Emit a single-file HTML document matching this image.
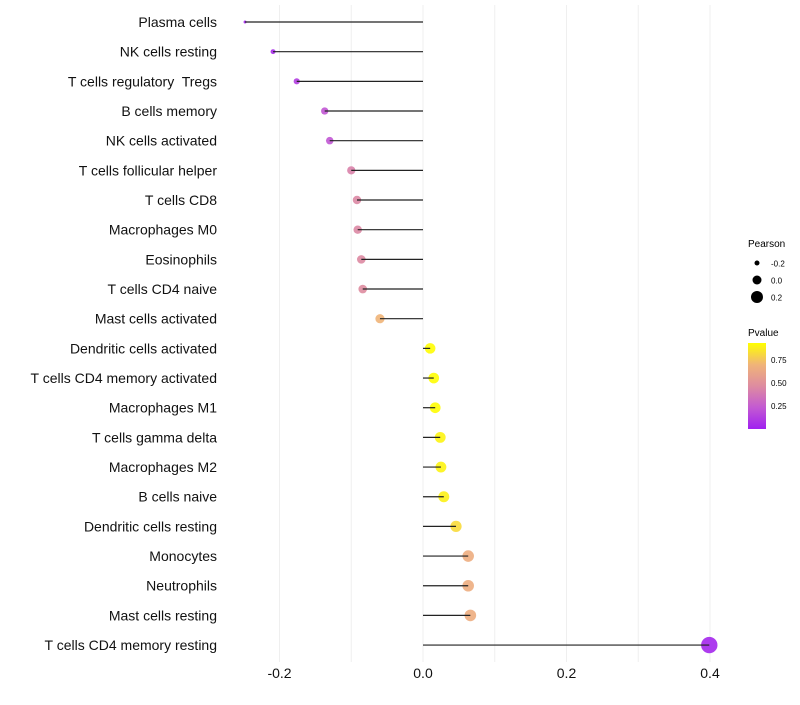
<!DOCTYPE html>
<html><head><meta charset="utf-8"><style>
body{margin:0;background:#fff;font-family:"Liberation Sans",sans-serif}
text{white-space:pre}
</style></head><body>
<svg id="chart" width="800" height="700" xmlns="http://www.w3.org/2000/svg" font-family="Liberation Sans, sans-serif">
<g id="grid"></g>
<g id="marks"></g>
<g id="ylabels"></g>
<g id="xlabels"></g>
<g>
<text x="748" y="247" font-size="10" fill="#000">Pearson</text>
<circle cx="757" cy="263" r="2.5" fill="#000"/>
<text x="771" y="266.5" font-size="8">-0.2</text>
<circle cx="757" cy="280" r="4.5" fill="#000"/>
<text x="771" y="283.5" font-size="8">0.0</text>
<circle cx="757" cy="297" r="6" fill="#000"/>
<text x="771" y="300.5" font-size="8">0.2</text>
</g>
<g>
<defs><linearGradient id="pg" x1="0" y1="1" x2="0" y2="0">
<stop offset="0" stop-color="#A020F0"/><stop offset="0.25" stop-color="#C35AD2"/><stop offset="0.5" stop-color="#DE8CA0"/><stop offset="0.75" stop-color="#F0B478"/><stop offset="1" stop-color="#FFFF00"/></linearGradient></defs>
<text x="748" y="336" font-size="10">Pvalue</text>
<rect x="748" y="343" width="18" height="86" fill="url(#pg)"/>
<text x="771" y="363" font-size="8">0.75</text>
<text x="771" y="386" font-size="8">0.50</text>
<text x="771" y="409" font-size="8">0.25</text>
</g>
</svg>
<script>
const categories=["Plasma cells","NK cells resting","T cells regulatory  Tregs","B cells memory","NK cells activated","T cells follicular helper","T cells CD8","Macrophages M0","Eosinophils","T cells CD4 naive","Mast cells activated","Dendritic cells activated","T cells CD4 memory activated","Macrophages M1","T cells gamma delta","Macrophages M2","B cells naive","Dendritic cells resting","Monocytes","Neutrophils","Mast cells resting","T cells CD4 memory resting"];
const pearson=[-0.248,-0.209,-0.176,-0.137,-0.130,-0.100,-0.092,-0.091,-0.086,-0.084,-0.060,0.010,0.015,0.017,0.024,0.025,0.029,0.046,0.063,0.063,0.066,0.399];
const pvalue=[0.02,0.05,0.12,0.22,0.22,0.42,0.45,0.45,0.46,0.47,0.70,0.93,0.93,0.93,0.90,0.90,0.89,0.82,0.66,0.66,0.66,0.03];
const xTicks=[-0.2,0.0,0.2,0.4];
const gridVals=[-0.2,-0.1,0,0.1,0.2,0.3,0.4];
const NS="http://www.w3.org/2000/svg";
function xs(v){return 423+v*717.5;}
function ys(i){return 22+i*29.67;}
function rs(v){const a=2.25+100*(v+0.248);return Math.sqrt(Math.max(a,1));}
const stops=[[160,32,240],[195,90,210],[222,140,160],[240,180,120],[255,255,0]];
function col(p){const t=Math.min(1,Math.max(0,p/0.935))*4;const k=Math.min(3,Math.floor(t)),f=t-k;
const a=stops[k],b=stops[k+1];return `rgb(${a.map((x,j)=>Math.round(x+(b[j]-x)*f))})`;}
function mk(tag,attrs,parent){const e=document.createElementNS(NS,tag);for(const k in attrs)e.setAttribute(k,attrs[k]);parent.appendChild(e);return e;}
const grid=document.getElementById('grid'),marks=document.getElementById('marks'),yl=document.getElementById('ylabels'),xl=document.getElementById('xlabels');
gridVals.forEach(v=>{const l=mk('line',{x1:xs(v),x2:xs(v),y1:5,y2:662,stroke:'#efefef','stroke-width':1},grid);

});
categories.forEach((c,i)=>{const y=ys(i);
const pt=mk('circle',{cx:xs(pearson[i]),cy:y,r:rs(pearson[i]),fill:col(pvalue[i]),'fill-opacity':0.9},marks);


const ln=mk('line',{x1:xs(0),x2:xs(pearson[i]),y1:y,y2:y,stroke:'#222','stroke-width':1.2},marks);


const t=mk('text',{x:217,y:y+5,'text-anchor':'end','font-size':14,fill:'#111'},yl);t.textContent=c;

});
xTicks.forEach(v=>{const t=mk('text',{x:xs(v),y:678,'text-anchor':'middle','font-size':14,fill:'#111'},xl);t.textContent=v.toFixed(1);

});
</script>
</body></html>
